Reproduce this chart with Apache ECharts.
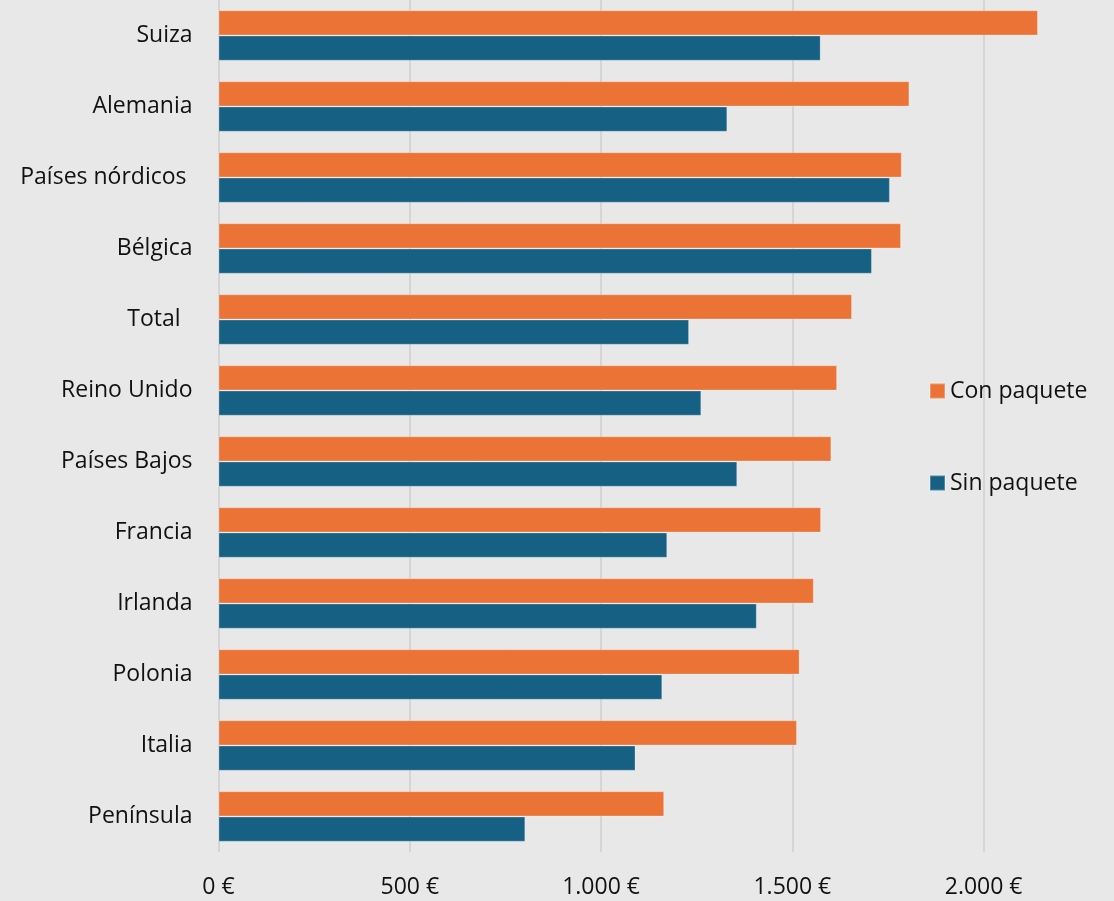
<!DOCTYPE html>
<html>
<head>
<meta charset="utf-8">
<script src="https://cdn.jsdelivr.net/npm/echarts@6/dist/echarts.min.js"></script>
<style>
html,body{margin:0;padding:0;background:#e8e8e8;}
#chart{width:1114px;height:901px;}
</style>
</head>
<body>
<div id="chart"></div>
<script>
const categories = ['Suiza', 'Alemania', 'Países nórdicos ', 'Bélgica', 'Total  ', 'Reino Unido', 'Países Bajos', 'Francia', 'Irlanda', 'Polonia', 'Italia', 'Península'];
const conPaquete = [2142, 1806, 1786, 1784, 1656, 1617, 1602, 1575, 1556, 1519, 1512, 1165];
const sinPaquete = [1574, 1330, 1755, 1708, 1230, 1262, 1356, 1173, 1407, 1160, 1090, 802];
const seriesNames = ['Con paquete', 'Sin paquete'];
const xTicks = [0, 500, 1000, 1500, 2000];

const FONT = '"Open Sans", sans-serif';
function fmt(v) {
  return String(v).replace(/\B(?=(\d{3})+(?!\d))/g, '.') + ' €';
}

const chart = echarts.init(document.getElementById('chart'));
chart.setOption({
  backgroundColor: '#e8e8e8',
  animation: false,
  textStyle: { fontFamily: FONT },
  legend: {
    orient: 'vertical',
    left: 929,
    top: 379,
    padding: 0,
    itemWidth: 15,
    itemHeight: 15,
    itemGap: 68,
    icon: 'rect',
    data: seriesNames,
    textStyle: { fontFamily: FONT, fontSize: 23, color: '#111', lineHeight: 24 }
  },
  grid: { left: 218.5, right: 73, top: 0, bottom: 49, containLabel: false },
  xAxis: {
    type: 'value',
    min: 0,
    max: 2150,
    interval: 500,
    axisLine: { show: false },
    axisTick: { show: false },
    splitLine: { show: true, showMaxLine: false, lineStyle: { color: '#d5d5d5', width: 2 } },
    axisLabel: {
      showMaxLabel: false,
      margin: 24,
      fontFamily: FONT,
      fontSize: 23,
      color: '#111',
      formatter: function (v) { return xTicks.indexOf(v) >= 0 ? fmt(v) : ''; }
    }
  },
  yAxis: {
    type: 'category',
    inverse: true,
    data: categories,
    axisLine: { show: false },
    axisTick: { show: false },
    axisLabel: { margin: 26, fontFamily: FONT, fontSize: 23, color: '#111', lineHeight: 28, verticalAlign: 'middle', padding: [6, 0, 0, 0] }
  },
  series: [
    {
      name: seriesNames[0],
      type: 'bar',
      data: conPaquete,
      barGap: '0%',
      barCategoryGap: '29%',
      itemStyle: { color: '#ea7335', borderColor: 'rgba(255,255,255,0.25)', borderWidth: 1 }
    },
    {
      name: seriesNames[1],
      type: 'bar',
      data: sinPaquete,
      barGap: '0%',
      barCategoryGap: '29%',
      itemStyle: { color: '#166083', borderColor: 'rgba(255,255,255,0.25)', borderWidth: 1 }
    }
  ]
});
</script>
</body>
</html>
